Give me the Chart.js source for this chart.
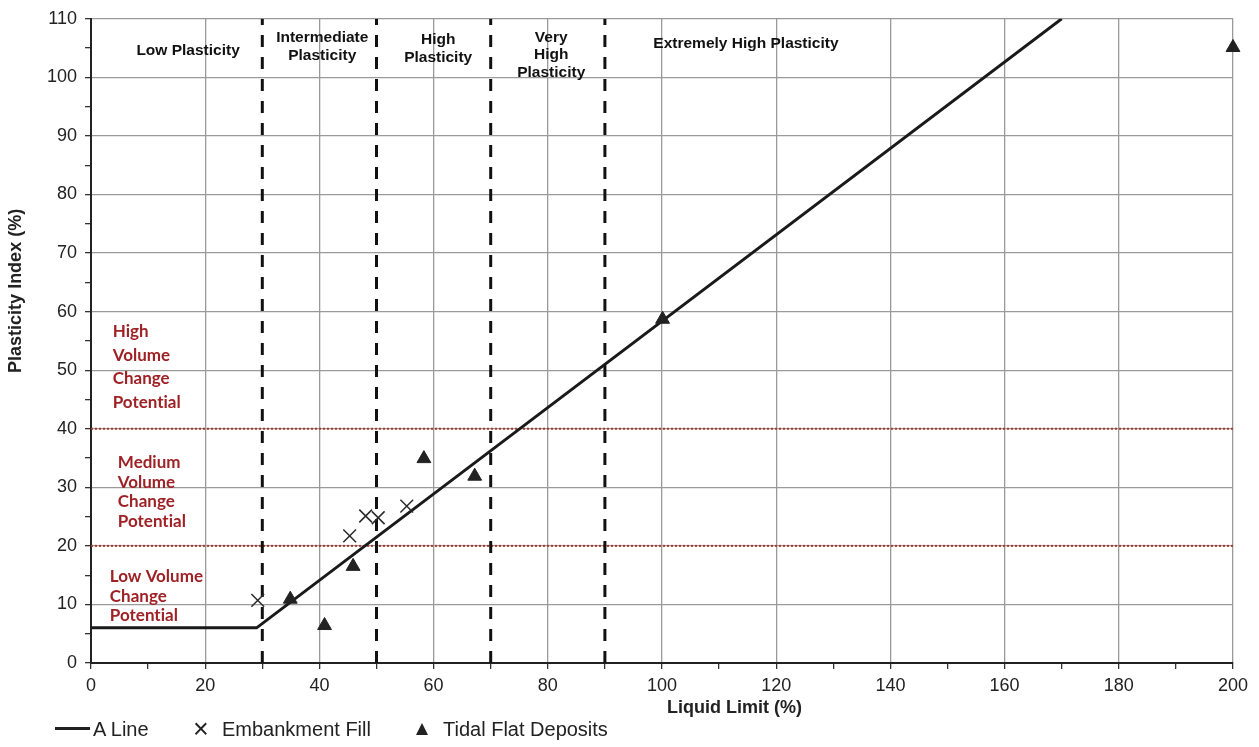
<!DOCTYPE html>
<html>
<head>
<meta charset="utf-8">
<script src="https://cdn.jsdelivr.net/npm/chart.js@4.4.1/dist/chart.umd.min.js"></script>
<style>
html,body{margin:0;padding:0;background:#fff;}
#wrap{width:1259px;height:747px;position:relative;}
#c{position:absolute;left:0;top:0;}
.lg{position:absolute;font-family:"Liberation Sans",Arial,sans-serif;font-size:20px;color:#222;line-height:24px;top:717px;white-space:nowrap;}
.lgx{position:absolute;font-family:"Liberation Sans",Arial,sans-serif;font-size:27px;color:#222;line-height:24px;top:717px;left:193px;}
.lgline{position:absolute;left:55px;top:727px;width:35px;height:3px;background:#222;}
.lgtri{position:absolute;left:416px;top:723px;width:0;height:0;border-left:6.5px solid transparent;border-right:6.5px solid transparent;border-bottom:12px solid #222;}
</style>
</head>
<body>
<div id="wrap">
<canvas id="c" width="1259" height="747"></canvas>
<div id="legend"></div>
</div>
<script>
// ---- data ----
const aLineLL = [0, 29, 170];
const aLinePI = [6, 6, 110];
const embankLL = [29.2, 45.3, 48.1, 50.3, 55.3];
const embankPI = [10.7, 21.7, 25.1, 24.8, 26.8];
const tidalLL = [34.9, 40.9, 45.9, 58.3, 67.2, 100.1, 200];
const tidalPI = [10.9, 6.4, 16.5, 34.9, 31.9, 58.7, 105.1];
const plasticityBounds = [30, 50, 70, 90];
const volumeBounds = [20, 40];
const xTicks = [0, 20, 40, 60, 80, 100, 120, 140, 160, 180, 200];
const yTicks = [0, 10, 20, 30, 40, 50, 60, 70, 80, 90, 100, 110];
const seriesNames = ['A Line', 'Embankment Fill', 'Tidal Flat Deposits'];
const plasticityLabels = [
  {lines: ['Low Plasticity'], ll: 17, pi: 104.5},
  {lines: ['Intermediate', 'Plasticity'], ll: 40.5, pi: 105.2},
  {lines: ['High', 'Plasticity'], ll: 60.8, pi: 104.9},
  {lines: ['Very', 'High', 'Plasticity'], ll: 80.6, pi: 103.8},
  {lines: ['Extremely High Plasticity'], ll: 114.7, pi: 105.8}
];
const volumeLabels = [
  {lines: ['High', 'Volume', 'Change', 'Potent\u200Cial'], ll: 3.8, pi: 50.5, lh: 23.5},
  {lines: ['Medium', 'Volume', 'Change', 'Potent\u200Cial'], ll: 4.7, pi: 29.2, lh: 19.6},
  {lines: ['Low Volume', 'Change', 'Potent\u200Cial'], ll: 3.3, pi: 11.4, lh: 19.6}
];

const toXY = (xs, ys) => xs.map((x, i) => ({x: x, y: ys[i]}));

const datasets = [
  {label: seriesNames[0], data: toXY(aLineLL, aLinePI), showLine: true, borderColor: '#1a1a1a', backgroundColor: '#1a1a1a',
   borderWidth: 3, pointRadius: 0, order: 1},
  {label: seriesNames[1], data: toXY(embankLL, embankPI), showLine: false, pointStyle: 'crossRot',
   pointRadius: 9, borderColor: '#2a2a2a', backgroundColor: '#2a2a2a', borderWidth: 1.5, order: 0},
  {label: seriesNames[2], data: toXY(tidalLL, tidalPI), showLine: false, pointStyle: 'triangle', clip: false,
   pointRadius: 8, borderColor: '#222', backgroundColor: '#222', borderWidth: 1, order: 0}
];
plasticityBounds.forEach(v => datasets.push({
  label: '_b' + v, data: [{x: v, y: 0}, {x: v, y: 110}], showLine: true, borderColor: '#111',
  borderWidth: 3, borderDash: [12, 10], pointRadius: 0, order: 2
}));
volumeBounds.forEach(v => datasets.push({
  label: '_v' + v, data: [{x: 0, y: v}, {x: 200, y: v}], showLine: true, borderColor: '#a83a2c',
  borderWidth: 2, borderDash: [2, 2], pointRadius: 0, order: 3
}));

// HTML legend (text kept as real text)
(function () {
  const lg = document.getElementById('legend');
  lg.innerHTML =
    '<div class="lgline"></div>' +
    '<span class="lg" style="left:93px">' + seriesNames[0] + '</span>' +
    '<span class="lgx">\u00d7</span>' +
    '<span class="lg" style="left:222px">' + seriesNames[1] + '</span>' +
    '<div class="lgtri"></div>' +
    '<span class="lg" style="left:443px">' + seriesNames[2] + '</span>';
})();

const textPlugin = {
  id: 'texts',
  afterDatasetsDraw(chart) {
    const ctx = chart.ctx, xs = chart.scales.x, ys = chart.scales.y;
    ctx.save();
    ctx.textAlign = 'center';
    ctx.textBaseline = 'middle';
    ctx.fillStyle = '#111';
    ctx.font = 'bold 15.5px "Liberation Sans", Arial, sans-serif';
    plasticityLabels.forEach(l => {
      const cx = xs.getPixelForValue(l.ll), cy = ys.getPixelForValue(l.pi);
      const n = l.lines.length, lh = 17.5;
      l.lines.forEach((t, i) => ctx.fillText(t, cx, cy + (i - (n - 1) / 2) * lh));
    });
    ctx.textAlign = 'left';
    ctx.fillStyle = '#9e2125';
    ctx.font = 'bold 17px Lato, "Open Sans", sans-serif';
    volumeLabels.forEach(l => {
      const lx = xs.getPixelForValue(l.ll), cy = ys.getPixelForValue(l.pi);
      const n = l.lines.length;
      l.lines.forEach((t, i) => ctx.fillText(t, lx, cy + (i - (n - 1) / 2) * l.lh));
    });
    ctx.restore();
  }
};

const nb = n => '\u00a0'.repeat(n);
new Chart(document.getElementById('c'), {
  type: 'scatter',
  data: {datasets: datasets},
  plugins: [textPlugin],
  options: {
    responsive: false,
    animation: false,
    layout: {padding: {top: 16, right: 26, left: 0, bottom: 28}},
    plugins: {
      tooltip: {enabled: false},
      legend: {display: false}
    },
    scales: {
      x: {
        type: 'linear', min: 0, max: 200,
        afterBuildTicks: s => { s.ticks = []; for (let v = 0; v <= 200; v += 10) s.ticks.push({value: v}); },
        afterFit: s => { s.height = 56; },
        ticks: {
          callback: v => xTicks.includes(v) ? String(v) : '',
          color: '#222', padding: 6, maxRotation: 0, autoSkip: false,
          font: {family: '"Liberation Sans", Arial, sans-serif', size: 18}
        },
        grid: {
          color: c => (c.tick && c.tick.value % 20 === 0) ? '#9a9a9a' : 'rgba(0,0,0,0)',
          tickColor: '#333', tickLength: 6, lineWidth: 1.3
        },
        border: {color: '#222', width: 2},
        title: {display: true, text: nb(29) + 'Liquid Limit (%)', color: '#222', padding: {top: 0, bottom: 0},
          font: {family: '"Liberation Sans", Arial, sans-serif', size: 18, weight: 'bold'}}
      },
      y: {
        type: 'linear', min: 0, max: 110,
        afterBuildTicks: s => { s.ticks = []; for (let v = 0; v <= 110; v += 5) s.ticks.push({value: v}); },
        afterFit: s => { s.width = 91; },
        ticks: {
          callback: v => yTicks.includes(v) ? String(v) : '',
          color: '#222', padding: 8, autoSkip: false,
          font: {family: '"Liberation Sans", Arial, sans-serif', size: 18}
        },
        grid: {
          color: c => (c.tick && c.tick.value % 10 === 0) ? '#9a9a9a' : 'rgba(0,0,0,0)',
          tickColor: '#333', tickLength: 6, lineWidth: 1.3
        },
        border: {color: '#222', width: 2},
        title: {display: true, text: nb(20) + 'Plasticity Index (%)', color: '#222', padding: {top: 5, bottom: 0},
          font: {family: '"Liberation Sans", Arial, sans-serif', size: 18, weight: 'bold'}}
      }
    }
  }
});
</script>
</body>
</html>
